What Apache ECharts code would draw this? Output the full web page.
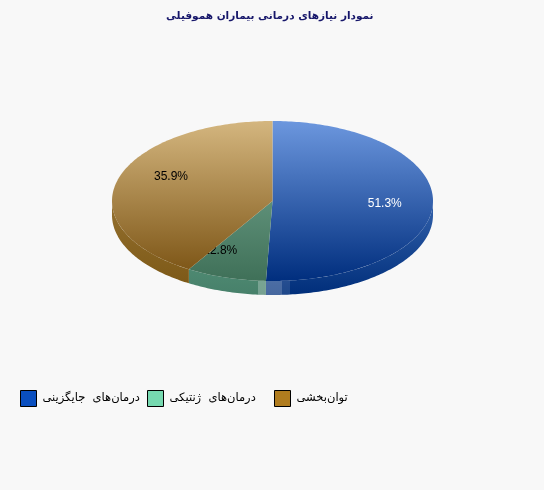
<!DOCTYPE html>
<html><head><meta charset="utf-8">
<style>html,body{margin:0;padding:0;background:#f8f8f8}#c{width:544px;height:490px}</style>
<script src="https://cdn.jsdelivr.net/npm/echarts@6/dist/echarts.min.js"></script>
</head><body><div id="c"></div>
<script>
const titleText = 'نمودار نیازهای درمانی بیماران هموفیلی';
const categories = ['درمان‌های  جایگزینی', 'درمان‌های  ژنتیکی', 'توان‌بخشی'];
const values = [51.3, 12.8, 35.9];
const legendColors = ['#0a4fc0', '#76d9b0', '#b07c1e'];
const topColors = [['#6c97de', '#002e7e'], ['#7daf98', '#3f7058'], ['#d4b67f', '#785010']];
const sideColors = [['#3362ac', '#002e7a'], ['#5fa085', '#47806a'], ['#94702f', '#7a5614']];
const labelColors = ['#ffffff', '#000000', '#000000'];
const legendLefts = [18, 145, 272];

const cx = 272.5, cy = 201, rx = 160.5, ry = 80, depth = 14;
const total = values.reduce((a, b) => a + b, 0);
const param = th => {
  let p = Math.atan2(Math.sin(th) / rx, Math.cos(th) / ry);
  if (p < 0) p += 2 * Math.PI;
  if (th > 2 * Math.PI - 1e-6) p = 2 * Math.PI;
  return p;
};
const pt = (p, dy) => [cx + rx * Math.sin(p), cy - ry * Math.cos(p) + (dy || 0)];
const arc = (a, b, dy) => {
  const out = [], n = Math.max(2, Math.ceil((b - a) * 60));
  for (let i = 0; i <= n; i++) out.push(pt(a + (b - a) * i / n, dy));
  return out;
};
const grad = (c, y0, y1) => ({ type: 'linear', x: 0, y: y0, x2: 0, y2: y1, global: true,
  colorStops: [{ offset: 0, color: c[0] }, { offset: 1, color: c[1] }] });
const sideBand = (a, b) => arc(a, b, 0).concat(arc(a, b, depth).reverse());
const xToParam = x => Math.PI - Math.asin((x - cx) / rx);
const sheens = [[-14.5, -6.5, 1, 0.26], [-6.5, 9.5, 0, 0.28], [9.5, 17.5, 0, 0.12]];

function renderSlice(idx) {
  return function () {
    let before = 0;
    for (let i = 0; i < idx; i++) before += values[i];
    const a = param(2 * Math.PI * before / total);
    const b = param(2 * Math.PI * (before + values[idx]) / total);
    const mid = 2 * Math.PI * (before + values[idx] / 2) / total;
    const children = [];
    const sa = Math.max(a, Math.PI / 2), sb = Math.min(b, 3 * Math.PI / 2);
    if (sb > sa) {
      children.push({ type: 'polygon', shape: { points: sideBand(sa, sb) },
        style: { fill: grad(sideColors[idx], cy, cy + ry + depth) } });
    }
    sheens.filter(s => s[2] === idx).forEach(s => {
      children.push({ type: 'polygon', shape: { points: sideBand(xToParam(cx + s[1]), xToParam(cx + s[0])) },
        style: { fill: '#ffffff', opacity: s[3] } });
    });
    children.push({ type: 'polygon',
      shape: { points: [[cx, cy]].concat(arc(a, b, 0)) },
      style: { fill: grad(topColors[idx], cy - ry, cy + ry) } });
    children.push({ type: 'text',
      x: cx + 0.7 * rx * Math.sin(mid), y: cy - 0.7 * ry * Math.cos(mid),
      style: { text: values[idx].toFixed(1) + '%', fill: labelColors[idx],
        font: '12px "Liberation Sans"', align: 'center', verticalAlign: 'middle' } });
    return { type: 'group', children };
  };
}

const chart = echarts.init(document.getElementById('c'), null, { renderer: 'canvas' });
chart.setOption({
  animation: false,
  backgroundColor: '#f8f8f8',
  title: { text: titleText, left: 161, top: 6,
    textStyle: { color: '#16166a', fontSize: 10.5, fontWeight: 'bold', fontFamily: '"DejaVu Sans"' } },
  legend: categories.map((name, i) => ({
    data: [name], left: legendLefts[i], top: 388, padding: 2, selectedMode: false,
    icon: 'rect', itemWidth: 16, itemHeight: 16, itemGap: 0,
    itemStyle: { borderColor: '#000', borderWidth: 1 },
    textStyle: { color: '#000', fontSize: 11.5, fontFamily: '"DejaVu Sans"', padding: [0, 0, 5, 1] }
  })),
  series: categories.map((name, i) => ({
    type: 'custom', name, coordinateSystem: 'none', silent: true, clip: false,
    color: legendColors[i], itemStyle: { color: legendColors[i] },
    data: [[values[i]]], renderItem: renderSlice(i)
  }))
});
</script></body></html>
